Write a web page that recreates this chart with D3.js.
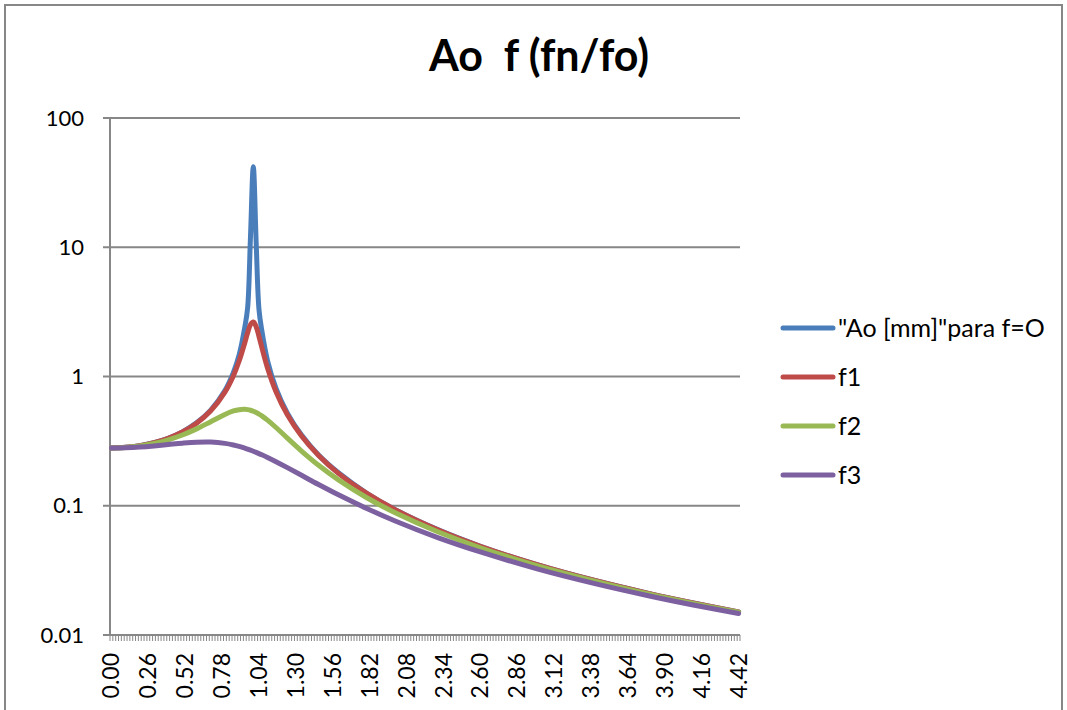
<!DOCTYPE html>
<html>
<head>
<meta charset="utf-8">
<script src="https://cdn.jsdelivr.net/npm/d3@7"></script>
<style>
  body { margin: 0; background: #fff; }
  text { font-family: Lato, "Liberation Sans", sans-serif; fill: #000; }
</style>
</head>
<body>
<div id="chart"></div>
<script>
// fn/fo values where the curves were read
var ratios = [0, 0.1, 0.2, 0.3, 0.4, 0.5, 0.6, 0.7, 0.8, 0.86, 0.9, 0.94, 0.96, 0.98, 1.0, 1.02, 1.04, 1.06, 1.1, 1.16, 1.24, 1.34, 1.46, 1.6, 1.8, 2.0, 2.3, 2.6, 3.0, 3.4, 3.8, 4.1, 4.42];

var ao_f0 = [0.28, 0.283, 0.292, 0.308, 0.333, 0.373, 0.438, 0.549, 0.778, 1.075, 1.47, 2.41, 3.4, 12, 42, 11, 3.3, 2.27, 1.33, 0.81, 0.521, 0.352, 0.247, 0.18, 0.125, 0.0933, 0.0653, 0.0486, 0.035, 0.0265, 0.0208, 0.0177, 0.0151];
var f1 = [0.28, 0.283, 0.292, 0.3075, 0.333, 0.372, 0.435, 0.543, 0.757, 1.015, 1.317, 1.827, 2.18, 2.52, 2.64, 2.43, 2.04, 1.68, 1.166, 0.763, 0.506, 0.3465, 0.245, 0.178, 0.1245, 0.0931, 0.0652, 0.0486, 0.035, 0.0265, 0.0208, 0.0177, 0.0151];
var f2 = [0.28, 0.2824, 0.29, 0.3033, 0.3236, 0.3527, 0.3933, 0.447, 0.509, 0.541, 0.554, 0.557, 0.554, 0.548, 0.5385, 0.526, 0.512, 0.496, 0.4595, 0.403, 0.3335, 0.265, 0.2055, 0.1584, 0.1153, 0.0882, 0.0629, 0.0473, 0.0344, 0.0262, 0.0206, 0.01755, 0.015];
var f3 = [0.28, 0.2812, 0.2848, 0.2905, 0.2976, 0.3049, 0.3103, 0.311, 0.3039, 0.2953, 0.2878, 0.2791, 0.2743, 0.2693, 0.2642, 0.2588, 0.2533, 0.2477, 0.2363, 0.2192, 0.1972, 0.172, 0.146, 0.1215, 0.0952, 0.0762, 0.0567, 0.0439, 0.0325, 0.0251, 0.01996, 0.01708, 0.01465];

var series_names = ['"Ao [mm]"para f=O', 'f1', 'f2', 'f3'];
var series_colors = ['#4a7ebb', '#be4b48', '#98b954', '#7d60a0'];

// category axis 0.00 .. 4.42, step 0.02
var categories = d3.range(0, 222).map(function (i) { return (i * 0.02).toFixed(2); });
var x_labels = categories.filter(function (d, i) { return i % 13 === 0; });
var y_ticks = [0.01, 0.1, 1, 10, 100];
var y_labels = ['0.01', '0.1', '1', '10', '100'];

var chart_width = 1067;
var chart_height = 710;
var grey = '#878787';

var svg = d3.select('#chart')
    .append('svg')
    .attr('width', chart_width)
    .attr('height', chart_height)

// chart border
svg.append('rect')
    .attr('x', 5)
    .attr('y', 5)
    .attr('width', 1057)
    .attr('height', 760)
    .attr('fill', 'none')
    .attr('stroke', grey)
    .attr('stroke-width', 2)

var x_scale = d3.scaleBand()
    .domain(categories)
    .range([110, 740])

var y_scale = d3.scaleLog()
    .domain([0.01, 100])
    .range([635, 118])

function cx(r) {
    return x_scale((r).toFixed(2)) + x_scale.bandwidth() / 2;
}

// gridlines + y ticks
svg.selectAll('.grid')
    .data(y_ticks)
    .enter()
    .append('line')
    .attr('x1', 103)
    .attr('x2', 740)
    .attr('y1', function (d) { return y_scale(d); })
    .attr('y2', function (d) { return y_scale(d); })
    .attr('stroke', grey)
    .attr('stroke-width', 2)

svg.selectAll('.ylab')
    .data(y_ticks)
    .enter()
    .append('text')
    .text(function (d, i) { return y_labels[i]; })
    .attr('x', 84)
    .attr('y', function (d) { return y_scale(d); })
    .attr('dy', '0.35em')
    .attr('text-anchor', 'end')
    .attr('font-size', 22)

// y axis line
svg.append('line')
    .attr('x1', 110).attr('x2', 110)
    .attr('y1', 118).attr('y2', 635)
    .attr('stroke', grey)
    .attr('stroke-width', 2)

// x axis ticks at category boundaries
var bounds = categories.map(function (d) { return x_scale(d); }).concat([740]);
svg.selectAll('.xtick')
    .data(bounds)
    .enter()
    .append('line')
    .attr('x1', function (d) { return d; })
    .attr('x2', function (d) { return d; })
    .attr('y1', 635)
    .attr('y2', 641)
    .attr('stroke', grey)
    .attr('stroke-width', 1)

svg.selectAll('.xlab')
    .data(x_labels)
    .enter()
    .append('text')
    .text(function (d) { return d; })
    .attr('transform', function (d) {
        return 'translate(' + (x_scale(d) + x_scale.bandwidth() / 2) + ',653) rotate(-90)';
    })
    .attr('dy', '0.35em')
    .attr('text-anchor', 'end')
    .attr('font-size', 23)

// lines
var all_series = [ao_f0, f1, f2, f3];
var line = d3.line()
    .x(function (d, i) { return cx(ratios[i]); })
    .y(function (d) { return y_scale(d); })
    .curve(d3.curveCatmullRom.alpha(0.5))

svg.selectAll('.series')
    .data(all_series)
    .enter()
    .append('path')
    .attr('d', function (d) { return line(d); })
    .attr('fill', 'none')
    .attr('stroke', function (d, i) { return series_colors[i]; })
    .attr('stroke-width', 5)
    .attr('stroke-linecap', 'round')
    .attr('stroke-linejoin', 'round')

// x axis line
svg.append('line')
    .attr('x1', 103).attr('x2', 740)
    .attr('y1', 635).attr('y2', 635)
    .attr('stroke', grey)
    .attr('stroke-width', 2)

// title
svg.append('text')
    .text('Ao  f (fn/fo)')
    .attr('x', 539)
    .attr('y', 71)
    .attr('text-anchor', 'middle')
    .attr('font-size', 43)
    .attr('font-weight', 'bold')
    .style('white-space', 'pre')

// legend
var legend = svg.selectAll('.legend')
    .data(series_names)
    .enter()
    .append('g')
    .attr('transform', function (d, i) { return 'translate(0,' + (328 + i * 49) + ')'; })

legend.append('line')
    .attr('x1', 783).attr('x2', 833)
    .attr('y1', 0).attr('y2', 0)
    .attr('stroke', function (d, i) { return series_colors[i]; })
    .attr('stroke-width', 5)
    .attr('stroke-linecap', 'round')

legend.append('text')
    .text(function (d) { return d; })
    .attr('x', 838)
    .attr('y', 0)
    .attr('dy', '0.35em')
    .attr('font-size', 25)
</script>
</body>
</html>
